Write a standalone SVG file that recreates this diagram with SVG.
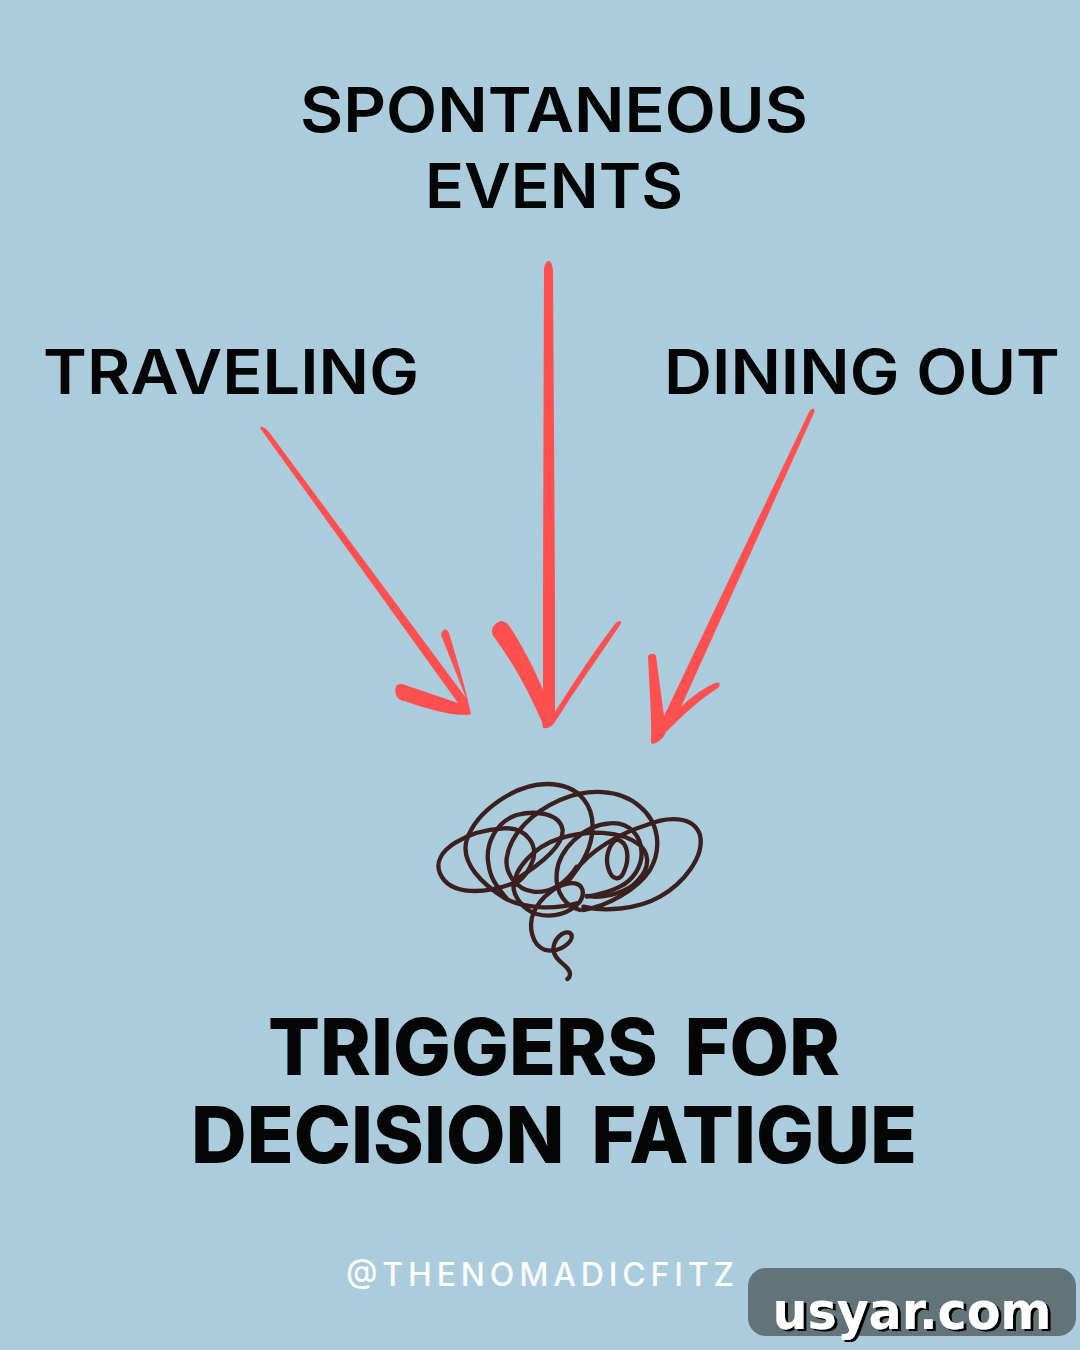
<svg xmlns="http://www.w3.org/2000/svg" width="1080" height="1350" viewBox="0 0 1080 1350">
<style>
.lab{font-family:"Inter","Liberation Sans",sans-serif;font-weight:600;font-size:62px;fill:#050505;text-anchor:middle}
.tit{font-family:"Inter","Liberation Sans",sans-serif;font-weight:800;font-size:79px;word-spacing:10px;fill:#050505;text-anchor:middle}
.hand{font-family:"Inter","Liberation Sans",sans-serif;font-weight:500;font-size:32px;fill:#fbfdfe;text-anchor:middle}
.arrow{fill:#ff5050}
.sc{fill:none;stroke:#3c2020;stroke-width:13;stroke-linecap:round;stroke-linejoin:round}
.wm{font-family:"DejaVu Sans",sans-serif;font-weight:700;font-size:51px;text-anchor:middle;fill:#fff}
</style>
<defs><filter id="wm-shadow" x="-5%" y="-10%" width="110%" height="120%"><feDropShadow dx="3" dy="2" stdDeviation="0" flood-color="#000"/></filter></defs>
<rect id="background" width="1080" height="1350" fill="#abccdc"/>
<g id="node-spontaneous"><text class="lab" x="554" y="132" textLength="508" lengthAdjust="spacingAndGlyphs">SPONTANEOUS</text><text class="lab" x="554" y="208" textLength="258" lengthAdjust="spacingAndGlyphs">EVENTS</text></g>
<g id="node-traveling"><text class="lab" x="231" y="394" textLength="376" lengthAdjust="spacingAndGlyphs">TRAVELING</text></g>
<g id="node-dining"><text class="lab" x="862" y="394" textLength="396" lengthAdjust="spacingAndGlyphs">DINING OUT</text></g>
<g id="connectors">
<path id="arrow-left" class="arrow" d="M260 428C262 425 265 428 269 432L466 698L441 635C442 628 447 628 449 633C454 650 465 685 471 714L468 715C450 716 425 708 404 701C396 700 394 692 396 686C399 683 403 684 408 686L458 703Z"/>
<path id="arrow-center" class="arrow" d="M544 270C545 258 552 258 553 270L555 600L555 712C575 680 595 650 615 624C619 619 623 621 620 625C600 655 575 690 555 722C552 727 547 729 543 728L542 722C530 695 515 665 494 637C489 630 494 622 502 621C506 622 508 624 510 627C522 645 535 670 543 690L543 600Z"/>
<path id="arrow-right" class="arrow" d="M809 412C812 407 816 408 814 413L681 707C692 696 704 688 715 683C720 681 721 685 718 688C700 699 682 716 666 732C663 739 658 743 652 744L651 742C652 720 649 680 648 656C650 653 655 653 656 656L664 716Z"/>
</g>
<g id="node-scribble" transform="translate(420 770) scale(0.3333)">
<path class="sc" d="M280 340C200 370 90 380 60 310C30 240 150 180 250 175C320 170 360 230 335 280C320 320 290 340 280 345"/>
<path class="sc" d="M470 400C400 420 310 415 255 385C190 345 120 280 140 210C170 120 290 42 380 42C480 42 530 110 515 200C505 260 470 300 440 340"/>
<path class="sc" d="M285 330C350 290 430 230 428 180C420 130 350 120 290 135C230 155 195 220 205 280C210 320 225 345 260 385"/>
<path class="sc" d="M470 290C440 340 390 370 340 365C290 360 255 310 260 265C270 190 340 125 420 90C500 55 600 55 660 110C720 160 725 240 690 300C650 360 560 410 490 420"/>
<path class="sc" d="M285 345C280 300 340 230 420 205C500 180 600 180 660 225C700 265 680 310 640 345C600 375 540 385 500 378"/>
<path class="sc" d="M480 420C440 410 405 370 410 310C415 240 490 165 570 160C630 155 665 200 665 250C665 290 640 330 600 350C570 365 530 375 500 380"/>
<path class="sc" d="M590 208C565 225 555 265 565 295C575 330 600 335 612 305C630 265 625 215 590 208Z"/>
<path class="sc" d="M460 310C510 240 600 190 680 165C740 140 820 135 840 195C855 260 790 340 720 380C650 420 550 425 490 410"/>
<path class="sc" d="M280 345C280 380 310 420 350 432C400 445 450 430 480 395C495 370 490 345 465 340C420 335 360 380 340 430C325 470 335 525 375 540C420 550 460 515 455 495C445 475 405 495 400 535C400 575 450 585 450 612C450 620 446 625 442 627"/>
</g>
<g id="node-title"><text class="tit" x="554" y="1075" textLength="572" lengthAdjust="spacingAndGlyphs">TRIGGERS FOR</text><text class="tit" x="554" y="1163" textLength="726" lengthAdjust="spacingAndGlyphs">DECISION FATIGUE</text></g>
<text id="handle" class="hand" x="540" y="1286" textLength="388" lengthAdjust="spacing">@THENOMADICFITZ</text>
<g id="watermark"><rect x="748" y="1268" width="328" height="68" rx="18" fill="#627379"/><text class="wm" x="912" y="1329" textLength="279" lengthAdjust="spacingAndGlyphs" filter="url(#wm-shadow)">usyar.com</text></g>
</svg>
